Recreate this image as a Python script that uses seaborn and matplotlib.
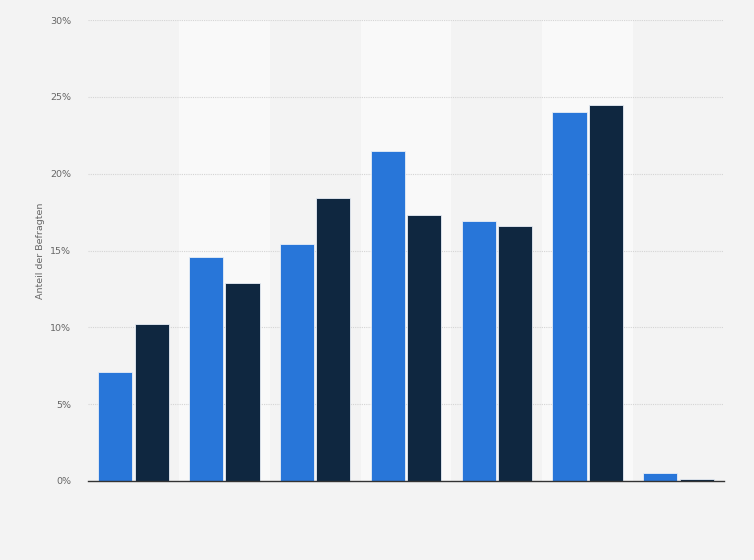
import matplotlib
matplotlib.use("Agg")
import matplotlib.pyplot as plt
import seaborn as sns
import pandas as pd
from matplotlib.ticker import FuncFormatter

categories = ["A", "B", "C", "D", "E", "F", "G"]
series_names = ["Serie 1", "Serie 2"]
values_1 = [7.1, 14.6, 15.4, 21.5, 16.9, 24.0, 0.5]
values_2 = [10.2, 12.9, 18.4, 17.3, 16.6, 24.5, 0.1]
y_ticks = [0, 5, 10, 15, 20, 25, 30]

df = pd.DataFrame({
    "cat": categories * 2,
    "series": [series_names[0]] * len(categories) + [series_names[1]] * len(categories),
    "value": values_1 + values_2,
})

sns.set_theme(style="white")
plt.rcParams['font.family'] = ['DejaVu Sans']

bg = "#f3f3f3"
fig = plt.figure(figsize=(7.54, 5.6), dpi=100, facecolor=bg)
ax = fig.add_axes([88/754, 1-481/560, (724-88)/754, (481-20)/560])
ax.set_facecolor(bg)

sns.barplot(data=df, x="cat", y="value", hue="series", order=categories,
            hue_order=series_names, palette=["#2876d9", "#0f2740"],
            saturation=1, width=0.8, gap=0.06, edgecolor="#e8eef6", linewidth=0.6,
            legend=False, ax=ax, zorder=3)

for i in range(len(categories)):
    if i % 2 == 1:
        ax.axvspan(i - 0.5, i + 0.5, color="#f9f9f9", zorder=0, lw=0)

ax.set_xlim(-0.5, len(categories) - 0.5)
ax.set_ylim(0, 30)
ax.set_yticks(y_ticks)
ax.yaxis.set_major_formatter(FuncFormatter(lambda v, p: f"{int(v)}%"))
ax.tick_params(axis="y", length=0, pad=12, labelsize=6.8, labelcolor="#666666")
ax.tick_params(axis="x", length=0, labelbottom=False)
ax.set_xlabel("")
ax.set_ylabel("Anteil der Befragten", fontsize=6.8, color="#666666", labelpad=4)

for y in y_ticks[1:]:
    ax.axhline(y, color="#d4d4d4", lw=0.8, ls=(0, (1.0, 1.0)), zorder=1)

for s in ["top", "right", "left"]:
    ax.spines[s].set_visible(False)
ax.spines["bottom"].set_color("#333333")
ax.spines["bottom"].set_linewidth(1.0)
ax.spines["bottom"].set_zorder(4)

fig.savefig("out.png", dpi=100, facecolor=bg)
